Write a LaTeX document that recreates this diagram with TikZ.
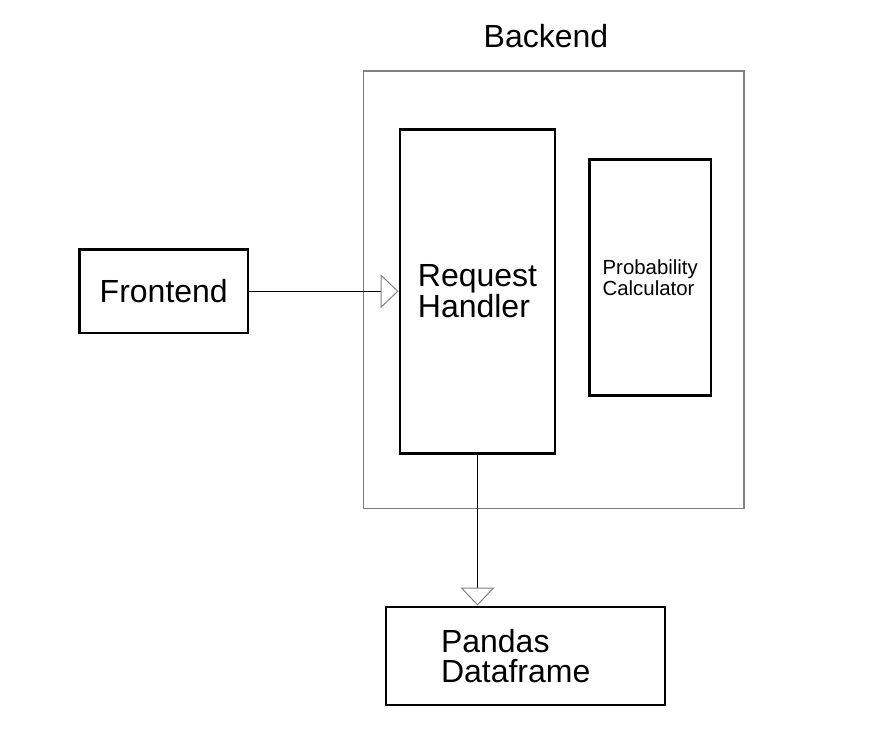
\documentclass[tikz,border=0pt]{standalone}
\usepackage{fontspec}
\setmainfont{Liberation Sans}
\usetikzlibrary{arrows.meta}

\begin{document}
\begin{tikzpicture}[x=0.75pt, y=-0.75pt,
	blk/.style={draw, line width=2.2pt, align=left, inner sep=0pt, font=\fontsize{24}{22}\selectfont},
	grp/.style={draw=gray, line width=1pt, inner sep=0pt},
	arr/.style={line width=0.75pt, -{Triangle[open, length=13.5pt, width=25.5pt, line width=0.75pt, color=gray, fill=white]}}]
\useasboundingbox (0,0) rectangle (872,756);
\draw (553.75, 289.75) node[grp, minimum width=285.4pt, minimum height=328.1pt] (Backend) {}; % Backend
\draw (546, 47.3) node[anchor=base, font=\fontsize{24}{22}\selectfont] (BackendLbl) {Backend}; % Backend
\draw (163.75, 291.25) node[blk, minimum width=126.4pt, minimum height=62.6pt] (Frontend) {Frontend}; % Frontend
\draw (477.5, 291.5) node[blk, minimum width=116.25pt, minimum height=243pt] (Handler) {Request\\Handler}; % RequestHandler
\draw (650.25, 277.5) node[blk, minimum width=91.1pt, minimum height=177pt, font=\fontsize{15.3}{15.5}\selectfont] (Prob) {Probability\\Calculator}; % ProbabilityCalculator
\draw (525.5, 656) node[blk, minimum width=209.25pt, minimum height=73.5pt, inner xsep=41.25pt, text width=126.75pt] (Pandas) {Pandas\\Dataframe}; % PandasDataframe

\draw [arr] (Frontend.east) -- (Frontend.east -| Handler.west) ; % Frontend -> Handler
\draw [arr] (Handler.south) -- (Handler.south |- Pandas.north) ; % Handler -> Pandas
\end{tikzpicture}
\end{document}
